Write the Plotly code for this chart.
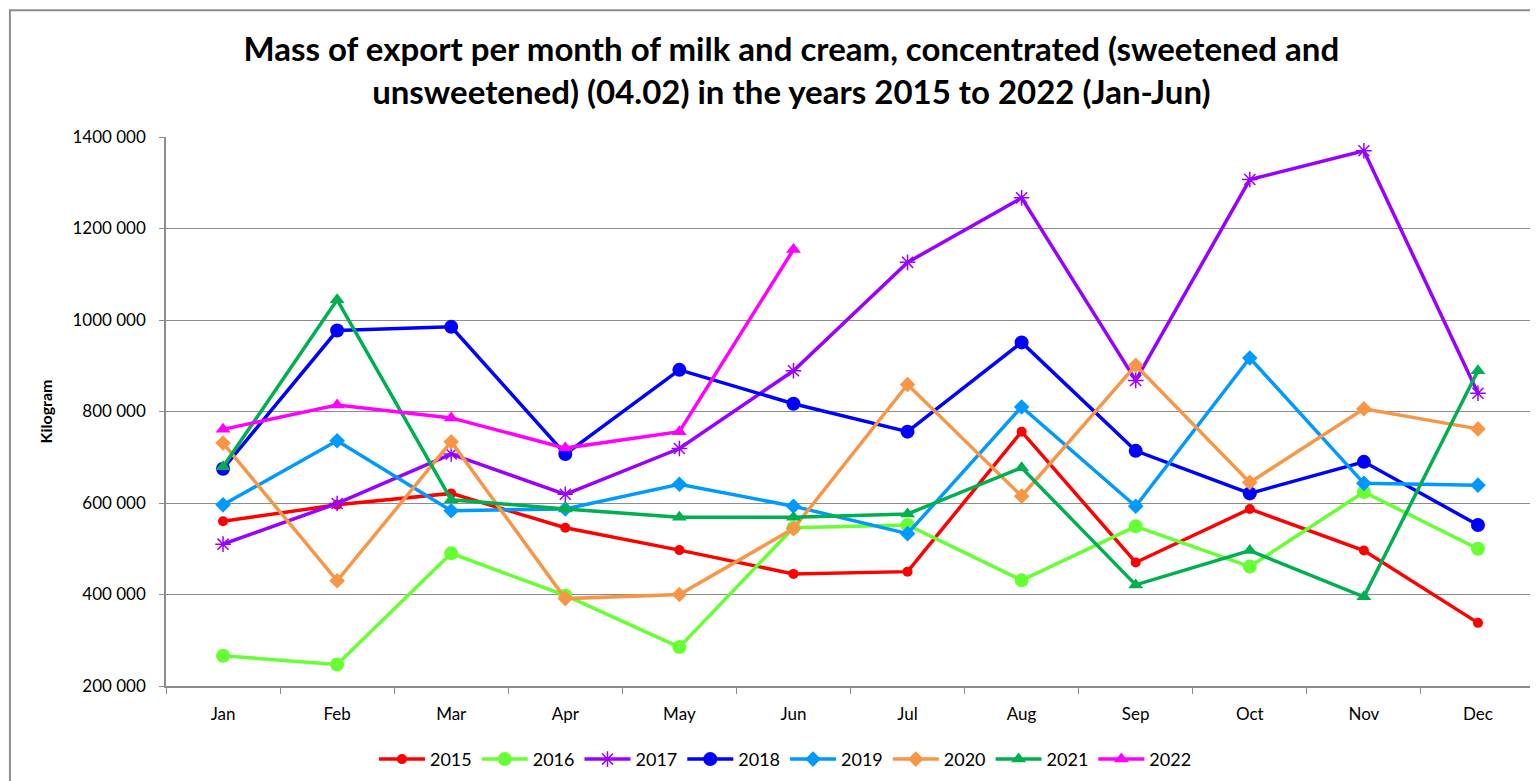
import plotly.graph_objects as go

months = ["Jan", "Feb", "Mar", "Apr", "May", "Jun", "Jul", "Aug", "Sep", "Oct", "Nov", "Dec"]

y2015 = [560000, 596000, 621000, 546000, 497000, 445000, 450000, 756000, 470000, 587000, 496000, 338000]
y2016 = [266000, 247000, 490000, 398000, 285000, 546000, 552000, 431000, 549000, 461000, 624000, 500000]
y2017 = [510000, 599000, 707000, 619000, 719000, 889000, 1126000, 1267000, 868000, 1307000, 1370000, 840000]
y2018 = [675000, 977000, 985000, 707000, 891000, 817000, 756000, 951000, 714000, 621000, 690000, 552000]
y2019 = [596000, 736000, 583000, 587000, 641000, 593000, 533000, 810000, 593000, 917000, 643000, 639000]
y2020 = [731000, 430000, 734000, 391000, 400000, 544000, 859000, 615000, 901000, 645000, 806000, 762000]
y2021 = [679000, 1044000, 607000, 587000, 569000, 569000, 576000, 677000, 421000, 496000, 395000, 889000]
y2022 = [761000, 814000, 786000, 720000, 756000, 1154000]

ytickvals = [200000, 400000, 600000, 800000, 1000000, 1200000, 1400000]
yticktext = ["200 000", "400 000", "600 000", "800 000", "1000 000", "1200 000", "1400 000"]

series = [
    ("2015", y2015, "#FF0000", "circle", 10, 0),
    ("2016", y2016, "#66FF33", "circle", 14, 0),
    ("2017", y2017, "#9900FF", "asterisk-open", 13, 1.5),
    ("2018", y2018, "#0000FF", "circle", 14, 0),
    ("2019", y2019, "#0099FF", "diamond", 12, 0),
    ("2020", y2020, "#F79646", "diamond", 12, 0),
    ("2021", y2021, "#00B050", "triangle-up", 13, 0),
    ("2022", y2022, "#FF00FF", "triangle-up", 13, 0),
]

fig = go.Figure()
for name, vals, color, sym, size, lw in series:
    fig.add_trace(go.Scatter(
        x=months[:len(vals)], y=vals, name=name, mode="lines+markers",
        line=dict(color=color, width=3.5),
        marker=dict(symbol=sym, size=size, color=color,
                    line=dict(color=color, width=lw)),
    ))

fig.update_layout(
    width=1530, height=773,
    margin=dict(l=158, r=3, t=129, b=92),
    paper_bgcolor="white", plot_bgcolor="white",
    font=dict(family="Lato, Carlito, sans-serif", color="black", size=17),
    title=dict(
        text="Mass of export per month of milk and cream, concentrated (sweetened and<br>unsweetened) (04.02) in the years 2015 to 2022 (Jan-Jun)",
        x=0.512, xanchor="center", y=0.931, yanchor="top",
        font=dict(family="Lato, sans-serif", size=33, color="black", weight="bold"),
    ),
    xaxis=dict(
        type="category", categoryorder="array", categoryarray=months,
        range=[-0.5, 11.5], tickson="boundaries", ticks="outside", ticklen=6,
        tickcolor="#8C8C8C", showline=True, linecolor="#8C8C8C", linewidth=1.5,
        showgrid=False, tickfont=dict(size=17), ticklabelstandoff=12,
    ),
    yaxis=dict(
        range=[200000, 1400000], tickvals=ytickvals, ticktext=yticktext,
        ticks="outside", ticklen=5, tickcolor="#8C8C8C",
        showline=True, linecolor="#8C8C8C", linewidth=1.5,
        showgrid=True, gridcolor="#8C8C8C", gridwidth=1.2,
        tickfont=dict(size=17), zeroline=False, ticklabelstandoff=10,
        title=dict(text="<b>Kilogram</b>", font=dict(size=16), standoff=16),
    ),
    legend=dict(
        orientation="h", x=0.4525, xanchor="center", y=-0.1, yanchor="top",
        font=dict(size=18), itemwidth=46, tracegroupgap=0,
    ),
    showlegend=True,
)

fig.add_shape(type="rect", xref="paper", yref="paper",
              x0=-0.114, x1=1.01, y0=-0.2, y1=1.231,
              line=dict(color="#8C8C8C", width=2), layer="below")

fig.write_html("out.html")
